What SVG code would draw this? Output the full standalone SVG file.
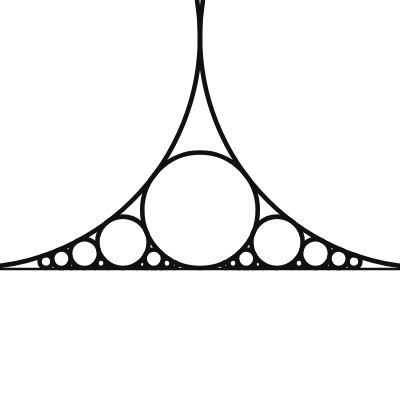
<svg xmlns="http://www.w3.org/2000/svg" width="400" height="400" viewBox="0 0 400 400">
<style>
circle{fill:none;stroke:#111;stroke-width:4.6}
line{stroke:#111;stroke-width:2.5}
</style>
<rect width="400" height="400" fill="#fff"/>
<line x1="0" y1="269" x2="400" y2="269"/>
<g id="q1">
<circle cx="-31" cy="37" r="231"/>
<circle cx="431" cy="37" r="231"/>
</g>
<g id="q2"><circle cx="200" cy="210.25" r="57.75"/></g>
<g id="q3">
<circle cx="123" cy="242.333" r="25.667"/>
<circle cx="277" cy="242.333" r="25.667"/>
</g>
<g id="q4">
<circle cx="84.5" cy="253.563" r="14.438"/>
<circle cx="315.5" cy="253.563" r="14.438"/>
</g>
<g id="q5">
<circle cx="61.4" cy="258.76" r="9.24"/>
<circle cx="153.8" cy="258.76" r="9.24"/>
<circle cx="246.2" cy="258.76" r="9.24"/>
<circle cx="338.6" cy="258.76" r="9.24"/>
</g>
<g id="q6">
<circle cx="46" cy="261.583" r="6.417"/>
<circle cx="354" cy="261.583" r="6.417"/>
</g>
<g id="q7">
<circle cx="101" cy="263.286" r="4.714"/>
<circle cx="167" cy="263.286" r="4.714"/>
<circle cx="233" cy="263.286" r="4.714"/>
<circle cx="299" cy="263.286" r="4.714"/>
</g>
<g id="q8">
<circle cx="142.25" cy="264.391" r="3.609"/>
<circle cx="257.75" cy="264.391" r="3.609"/>
</g>
<g id="q9">
<circle cx="71.667" cy="265.148" r="2.852"/>
<circle cx="174.333" cy="265.148" r="2.852"/>
<circle cx="225.667" cy="265.148" r="2.852"/>
<circle cx="328.333" cy="265.148" r="2.852"/>
</g>
<g id="q10">
<circle cx="107.6" cy="265.69" r="2.31"/>
<circle cx="292.4" cy="265.69" r="2.31"/>
</g>
<g id="q11">
<circle cx="95" cy="266.091" r="1.909"/>
<circle cx="137" cy="266.091" r="1.909"/>
<circle cx="263" cy="266.091" r="1.909"/>
<circle cx="305" cy="266.091" r="1.909"/>
</g>
<g id="q12">
<circle cx="161.5" cy="266.396" r="1.604"/>
<circle cx="238.5" cy="266.396" r="1.604"/>
</g>
<g id="q13">
<circle cx="146.692" cy="266.633" r="1.367"/>
<circle cx="253.308" cy="266.633" r="1.367"/>
</g>
</svg>
